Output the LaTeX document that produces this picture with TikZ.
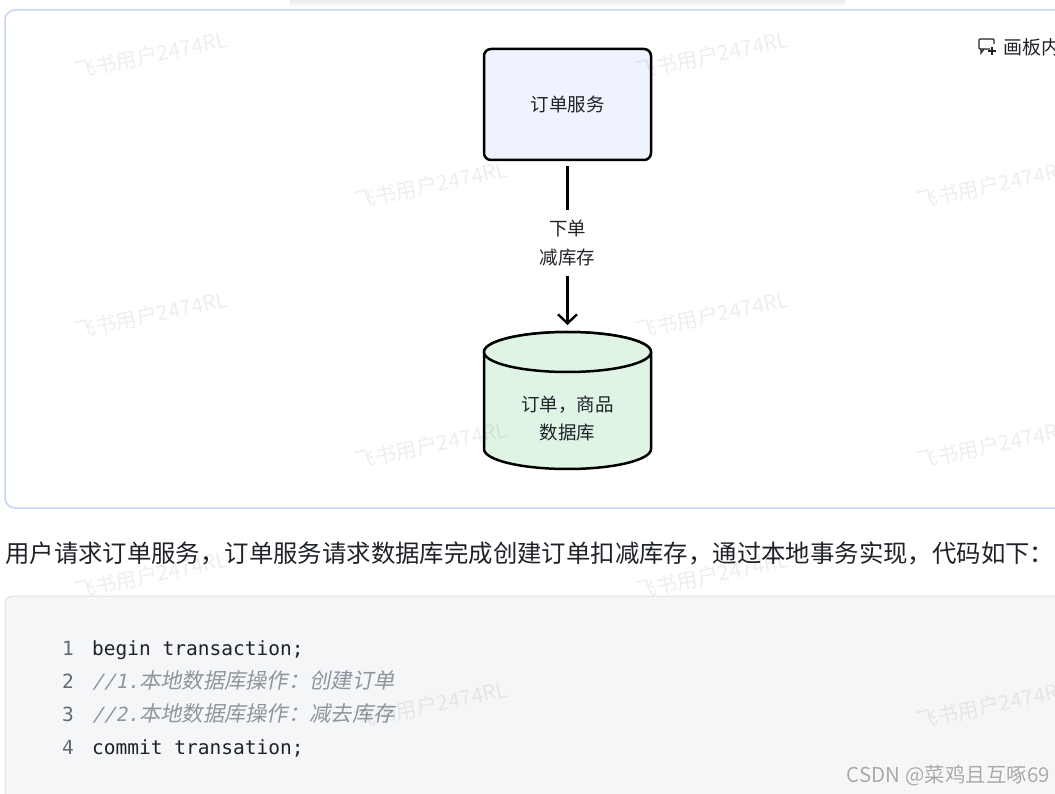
\documentclass[tikz,border=0pt]{standalone}
\usepackage{fontspec}
\setmainfont{Noto Sans CJK SC}
\newfontfamily\cjkfont{Noto Sans CJK SC}
\newfontfamily\cjkitfont{Noto Sans CJK SC}[FakeSlant=0.2]
\newfontfamily\codefont{DejaVu Sans Mono}
\newfontfamily\codeitfont{DejaVu Sans Mono}[FakeSlant=0.2]
\usetikzlibrary{arrows.meta}
\definecolor{panelborder}{HTML}{C6D4F6}
\definecolor{svcfill}{HTML}{EEF3FD}
\definecolor{dbfill}{HTML}{DFF4E4}
\definecolor{ink}{HTML}{1F2329}
\definecolor{codebg}{HTML}{F5F6F7}
\definecolor{codeborder}{HTML}{DEE0E3}
\definecolor{lineno}{HTML}{646A73}
\definecolor{comment}{HTML}{8F959E}
\definecolor{csdn}{HTML}{A9A9A9}
\tikzset{
  panel/.style={draw=panelborder, line width=1.5pt, fill=white, rounded corners=10pt},
  svcbox/.style={draw=black, line width=2.5pt, fill=svcfill, rounded corners=7pt,
    minimum width=167pt, minimum height=111pt, text=ink, font=\cjkfont\fontsize{18.5}{22}\selectfont},
  dbshape/.style={draw=black, line width=2.5pt, fill=dbfill},
  dbtext/.style={align=center, text=ink, font=\cjkfont\fontsize{18.5}{28}\selectfont},
  flow/.style={line width=2.4pt, -{Straight Barb[length=9pt,width=19pt]}},
  flowlabel/.style={fill=white, align=center, text=ink, inner xsep=4pt, inner ysep=10pt,
    font=\cjkfont\fontsize{18.5}{29}\selectfont},
  para/.style={anchor=west, inner sep=0pt, text=ink, font=\cjkfont\fontsize{24.4}{28}\selectfont},
  codebox/.style={draw=codeborder, line width=1pt, fill=codebg, rounded corners=8pt},
  lno/.style={anchor=base east, inner sep=0pt, text=lineno, font=\codefont\fontsize{19.5}{22}\selectfont},
  code/.style={anchor=base west, inner sep=0pt, text=ink, font=\codefont\fontsize{19.5}{22}\selectfont},
  cmt/.style={anchor=base west, inner sep=0pt, text=comment, font=\codeitfont\fontsize{19.5}{22}\selectfont},
  wm/.style={rotate=12, text=black, text opacity=0.065, inner sep=0pt, font=\cjkfont\fontsize{21}{22}\selectfont},
  toptext/.style={anchor=west, inner sep=0pt, text=ink, font=\cjkfont\fontsize{19}{22}\selectfont},
  csdnmark/.style={anchor=east, inner sep=0pt, font=\cjkfont\fontsize{20.5}{22}\selectfont},
}
\begin{document}
\begin{tikzpicture}[x=1pt,y=1pt]
\useasboundingbox (0,0) rectangle (1055,-794);
\clip (0,0) rectangle (1055,-794);
\fill[white] (0,0) rectangle (1055,-794);
% shadow of card above
\shade[top color=black!10, bottom color=white] (290,2) rectangle (845,-7);
% panel
\draw[panel] (5,-10) rectangle (1080,-508);
% service box
\node[svcbox] (svc) at (567.5,-104.5) {订单服务};
% database cylinder
\coordinate (dbtop) at (567.5,-332);
\path[dbshape] (484,-352) -- (484,-449)
  arc[start angle=180, end angle=360, x radius=83.5, y radius=20]
  -- (651,-352)
  arc[start angle=0, end angle=180, x radius=83.5, y radius=20] -- cycle;
\draw[dbshape] (567.5,-352) ellipse[x radius=83.5, y radius=20];
\node[dbtext] (db) at (567.5,-418) {订单，商品\\数据库};
% connector
\draw[flow, shorten <=5pt, shorten >=7pt] (svc.south) -- node[flowlabel, pos=0.48] (lbl) {下单\\减库存} (dbtop);
% top-right toolbar
\draw[line width=1.2pt, color=ink, rounded corners=1pt] (990,-49) -- (979,-49) -- (979,-39) -- (994,-39) -- (994,-44);
\draw[line width=1.2pt, color=ink] (981,-49) -- (981,-53) -- (984,-49);
\draw[line width=1.2pt, color=ink] (988,-51) -- (996,-51) (992,-47) -- (992,-55);
\node[toptext] (board) at (1003,-47) {画板内};
% paragraph
\node[para] (para) at (5,-553) {用户请求订单服务，订单服务请求数据库完成创建订单扣减库存，通过本地事务实现，代码如下：};
% code block
\draw[codebox] (5,-596) rectangle (1080,-830);
\node[lno] (n1) at (74,-655) {1};
\node[code] (c1) at (92,-655) {begin transaction;};
\node[lno] (n2) at (74,-688) {2};
\node[cmt] (c2) at (92,-688) {//1.{\cjkitfont\fontsize{21.3}{22}\selectfont 本地数据库操作：创建订单}};
\node[lno] (n3) at (74,-721) {3};
\node[cmt] (c3) at (92,-721) {//2.{\cjkitfont\fontsize{21.3}{22}\selectfont 本地数据库操作：减去库存}};
\node[lno] (n4) at (74,-754) {4};
\node[code] (c4) at (92,-754) {commit transation;};
% watermarks
\foreach \wx/\wy in {151/55, 712/55, 431/185, 993/185, 151/315, 712/315, 431/445, 993/445, 151/575, 712/575, 431/705, 993/705}
  \node[wm] (wm-\wx-\wy) at (\wx,-\wy) {飞书用户2474RL};
% CSDN mark
\node[csdnmark, text=white] (csdnshadow) at (1051,-777) {CSDN @菜鸡且互啄69};
\node[csdnmark, text=csdn] (csdn) at (1050,-776) {CSDN @菜鸡且互啄69};
\end{tikzpicture}
\end{document}
